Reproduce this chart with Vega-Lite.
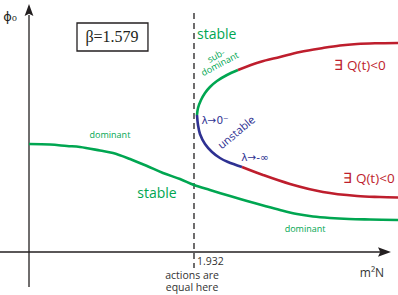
{
  "$schema": "https://vega.github.io/schema/vega-lite/v6.json",
  "width": 398,
  "height": 295,
  "padding": 0,
  "autosize": {"type": "none"},
  "background": "white",
  "config": {"view": {"stroke": null}, "text": {"font": "Open Sans"}},
  "datasets": {
    "curves": [
      {"seg": "dominant", "i": 0, "x": 0.0, "y": 1.08},
      {"seg": "dominant", "i": 1, "x": 0.246, "y": 1.075},
      {"seg": "dominant", "i": 2, "x": 0.445, "y": 1.06},
      {"seg": "dominant", "i": 3, "x": 0.597, "y": 1.05},
      {"seg": "dominant", "i": 4, "x": 0.831, "y": 1.015},
      {"seg": "dominant", "i": 5, "x": 0.984, "y": 0.99},
      {"seg": "dominant", "i": 6, "x": 1.183, "y": 0.93},
      {"seg": "dominant", "i": 7, "x": 1.382, "y": 0.86},
      {"seg": "dominant", "i": 8, "x": 1.569, "y": 0.79},
      {"seg": "dominant", "i": 9, "x": 1.768, "y": 0.73},
      {"seg": "dominant", "i": 10, "x": 1.932, "y": 0.67},
      {"seg": "dominant", "i": 11, "x": 2.119, "y": 0.62},
      {"seg": "dominant", "i": 12, "x": 2.354, "y": 0.56},
      {"seg": "dominant", "i": 13, "x": 2.553, "y": 0.51},
      {"seg": "dominant", "i": 14, "x": 2.763, "y": 0.46},
      {"seg": "dominant", "i": 15, "x": 2.939, "y": 0.42},
      {"seg": "dominant", "i": 16, "x": 3.138, "y": 0.38},
      {"seg": "dominant", "i": 17, "x": 3.325, "y": 0.355},
      {"seg": "dominant", "i": 18, "x": 3.524, "y": 0.34},
      {"seg": "dominant", "i": 19, "x": 3.747, "y": 0.33},
      {"seg": "dominant", "i": 20, "x": 3.993, "y": 0.325},
      {"seg": "dominant", "i": 21, "x": 4.321, "y": 0.32},
      {"seg": "subdominant", "i": 0, "x": 1.967, "y": 1.37},
      {"seg": "subdominant", "i": 1, "x": 1.979, "y": 1.44},
      {"seg": "subdominant", "i": 2, "x": 2.014, "y": 1.52},
      {"seg": "subdominant", "i": 3, "x": 2.061, "y": 1.59},
      {"seg": "subdominant", "i": 4, "x": 2.119, "y": 1.65},
      {"seg": "subdominant", "i": 5, "x": 2.201, "y": 1.71},
      {"seg": "subdominant", "i": 6, "x": 2.318, "y": 1.77},
      {"seg": "subdominant", "i": 7, "x": 2.447, "y": 1.82},
      {"seg": "negQ_upper", "i": 0, "x": 2.447, "y": 1.82},
      {"seg": "negQ_upper", "i": 1, "x": 2.705, "y": 1.9},
      {"seg": "negQ_upper", "i": 2, "x": 2.939, "y": 1.95},
      {"seg": "negQ_upper", "i": 3, "x": 3.173, "y": 2.0},
      {"seg": "negQ_upper", "i": 4, "x": 3.442, "y": 2.04},
      {"seg": "negQ_upper", "i": 5, "x": 3.641, "y": 2.065},
      {"seg": "negQ_upper", "i": 6, "x": 3.841, "y": 2.08},
      {"seg": "negQ_upper", "i": 7, "x": 4.051, "y": 2.087},
      {"seg": "negQ_upper", "i": 8, "x": 4.321, "y": 2.09},
      {"seg": "unstable", "i": 0, "x": 1.967, "y": 1.37},
      {"seg": "unstable", "i": 1, "x": 1.979, "y": 1.27},
      {"seg": "unstable", "i": 2, "x": 2.002, "y": 1.18},
      {"seg": "unstable", "i": 3, "x": 2.061, "y": 1.08},
      {"seg": "unstable", "i": 4, "x": 2.143, "y": 1.0},
      {"seg": "unstable", "i": 5, "x": 2.236, "y": 0.94},
      {"seg": "unstable", "i": 6, "x": 2.33, "y": 0.9},
      {"seg": "unstable", "i": 7, "x": 2.494, "y": 0.85},
      {"seg": "negQ_lower", "i": 0, "x": 2.494, "y": 0.85},
      {"seg": "negQ_lower", "i": 1, "x": 2.74, "y": 0.77},
      {"seg": "negQ_lower", "i": 2, "x": 3.056, "y": 0.68},
      {"seg": "negQ_lower", "i": 3, "x": 3.442, "y": 0.6},
      {"seg": "negQ_lower", "i": 4, "x": 3.841, "y": 0.56},
      {"seg": "negQ_lower", "i": 5, "x": 4.11, "y": 0.55},
      {"seg": "negQ_lower", "i": 6, "x": 4.321, "y": 0.545}
    ]
  },
  "layer": [
    {
      "data": {"values": [
        {"x": 0, "y": -0.35, "x2": 0, "y2": 2.37},
        {"x": -0.3396, "y": 0, "x2": 4.12, "y2": 0}
      ]},
      "mark": {"type": "rule", "color": "#231f20", "strokeWidth": 1.3},
      "encoding": {
        "x": {"field": "x", "type": "quantitative", "axis": null, "scale": {"domain": [-0.3396, 4.3207], "nice": false, "zero": false}},
        "y": {"field": "y", "type": "quantitative", "axis": null, "scale": {"domain": [-0.43, 2.52], "nice": false, "zero": false}},
        "x2": {"field": "x2"},
        "y2": {"field": "y2"}
      }
    },
    {
      "data": {"values": [{"x": 0, "y": 2.41}]},
      "mark": {"type": "point", "shape": "M0,-1L0.62,0.7L0,0.4L-0.62,0.7Z", "filled": true, "opacity": 1, "color": "#231f20", "size": 200},
      "encoding": {
        "x": {"field": "x", "type": "quantitative"},
        "y": {"field": "y", "type": "quantitative"}
      }
    },
    {
      "data": {"values": [{"x": 4.149, "y": 0}]},
      "mark": {"type": "point", "shape": "M1,0L-0.7,0.62L-0.4,0L-0.7,-0.62Z", "filled": true, "opacity": 1, "color": "#231f20", "size": 234},
      "encoding": {
        "x": {"field": "x", "type": "quantitative"},
        "y": {"field": "y", "type": "quantitative"}
      }
    },
    {
      "data": {"values": [{"x": 1.932, "y": 2.39, "y2": -0.16}]},
      "mark": {"type": "rule", "color": "#231f20", "strokeWidth": 1.3, "strokeDash": [6, 4]},
      "encoding": {
        "x": {"field": "x", "type": "quantitative"},
        "y": {"field": "y", "type": "quantitative"},
        "y2": {"field": "y2"}
      }
    },
    {
      "data": {"values": [{"x": 0.562, "x2": 1.393, "y": 2.29, "y2": 2.01}]},
      "mark": {"type": "rect", "fill": null, "fillOpacity": 0, "stroke": "#231f20", "strokeWidth": 1.3},
      "encoding": {
        "x": {"field": "x", "type": "quantitative"},
        "x2": {"field": "x2"},
        "y": {"field": "y", "type": "quantitative"},
        "y2": {"field": "y2"}
      }
    },
    {
      "data": {"name": "curves"},
      "mark": {"type": "line", "interpolate": "catmull-rom", "strokeWidth": 2.6},
      "encoding": {
        "x": {"field": "x", "type": "quantitative"},
        "y": {"field": "y", "type": "quantitative"},
        "order": {"field": "i", "type": "quantitative"},
        "color": {"field": "seg", "type": "nominal", "legend": null,
          "scale": {"domain": ["dominant", "subdominant", "negQ_upper", "unstable", "negQ_lower"],
                    "range": ["#00a651", "#00a651", "#be1e2d", "#2e3192", "#be1e2d"]}}
      }
    },
    {
      "data": {"values": [{"x": -0.222, "y": 2.35, "t": "ϕ₀"}]},
      "mark": {"type": "text", "font": "DejaVu Sans", "fontSize": 13, "color": "#231f20", "align": "center", "baseline": "middle"},
      "encoding": {"x": {"field": "x", "type": "quantitative"}, "y": {"field": "y", "type": "quantitative"}, "text": {"field": "t"}}
    },
    {
      "data": {"values": [{"x": 0.972, "y": 2.15, "t": "β=1.579"}]},
      "mark": {"type": "text", "font": "Liberation Serif", "fontSize": 16, "color": "#231f20", "align": "center", "baseline": "middle"},
      "encoding": {"x": {"field": "x", "type": "quantitative"}, "y": {"field": "y", "type": "quantitative"}, "text": {"field": "t"}}
    },
    {
      "data": {"values": [{"x": 1.967, "y": 2.17, "t": "stable"}]},
      "mark": {"type": "text", "fontSize": 14, "color": "#00a651", "align": "left", "baseline": "middle"},
      "encoding": {"x": {"field": "x", "type": "quantitative"}, "y": {"field": "y", "type": "quantitative"}, "text": {"field": "t"}}
    },
    {
      "data": {"values": [{"x": 1.499, "y": 0.58, "t": "stable"}]},
      "mark": {"type": "text", "fontSize": 14, "color": "#00a651", "align": "center", "baseline": "middle"},
      "encoding": {"x": {"field": "x", "type": "quantitative"}, "y": {"field": "y", "type": "quantitative"}, "text": {"field": "t"}}
    },
    {
      "data": {"values": [{"x": 2.19, "y": 1.96, "t": "sub-"}, {"x": 2.236, "y": 1.88, "t": "dominant"}]},
      "mark": {"type": "text", "fontSize": 9, "color": "#00a651", "align": "center", "baseline": "middle", "angle": 332},
      "encoding": {"x": {"field": "x", "type": "quantitative"}, "y": {"field": "y", "type": "quantitative"}, "text": {"field": "t"}}
    },
    {
      "data": {"values": [{"x": 0.948, "y": 1.17, "t": "dominant"}, {"x": 3.232, "y": 0.23, "t": "dominant"}]},
      "mark": {"type": "text", "fontSize": 9, "color": "#00a651", "align": "center", "baseline": "middle"},
      "encoding": {"x": {"field": "x", "type": "quantitative"}, "y": {"field": "y", "type": "quantitative"}, "text": {"field": "t"}}
    },
    {
      "data": {"values": [{"x": 2.178, "y": 1.31, "t": "λ→0⁻"}, {"x": 2.646, "y": 0.94, "t": "λ→-∞"}]},
      "mark": {"type": "text", "font": "DejaVu Sans", "fontSize": 10.5, "color": "#2e3192", "align": "center", "baseline": "middle"},
      "encoding": {"x": {"field": "x", "type": "quantitative"}, "y": {"field": "y", "type": "quantitative"}, "text": {"field": "t"}}
    },
    {
      "data": {"values": [{"x": 2.435, "y": 1.19, "t": "unstable"}]},
      "mark": {"type": "text", "fontSize": 11, "color": "#2e3192", "align": "center", "baseline": "middle", "angle": 320},
      "encoding": {"x": {"field": "x", "type": "quantitative"}, "y": {"field": "y", "type": "quantitative"}, "text": {"field": "t"}}
    },
    {
      "data": {"values": [{"x": 3.876, "y": 1.86, "t": "∃ Q(t)<0"}, {"x": 3.981, "y": 0.73, "t": "∃ Q(t)<0"}]},
      "mark": {"type": "text", "fontSize": 13.5, "color": "#be1e2d", "align": "center", "baseline": "middle"},
      "encoding": {"x": {"field": "x", "type": "quantitative"}, "y": {"field": "y", "type": "quantitative"}, "text": {"field": "t"}}
    },
    {
      "data": {"values": [{"x": 1.967, "y": -0.1, "t": "1.932"}]},
      "mark": {"type": "text", "fontSize": 10.5, "color": "#333333", "align": "left", "baseline": "middle"},
      "encoding": {"x": {"field": "x", "type": "quantitative"}, "y": {"field": "y", "type": "quantitative"}, "text": {"field": "t"}}
    },
    {
      "data": {"values": [{"x": 1.909, "y": -0.185, "t": ["actions are", "equal here"]}]},
      "mark": {"type": "text", "fontSize": 10.5, "lineHeight": 12.5, "color": "#333333", "align": "center", "baseline": "top"},
      "encoding": {"x": {"field": "x", "type": "quantitative"}, "y": {"field": "y", "type": "quantitative"}, "text": {"field": "t"}}
    },
    {
      "data": {"values": [{"x": 4.016, "y": -0.21, "t": "m²N"}]},
      "mark": {"type": "text", "fontSize": 12, "color": "#333333", "align": "center", "baseline": "middle"},
      "encoding": {"x": {"field": "x", "type": "quantitative"}, "y": {"field": "y", "type": "quantitative"}, "text": {"field": "t"}}
    }
  ]
}
